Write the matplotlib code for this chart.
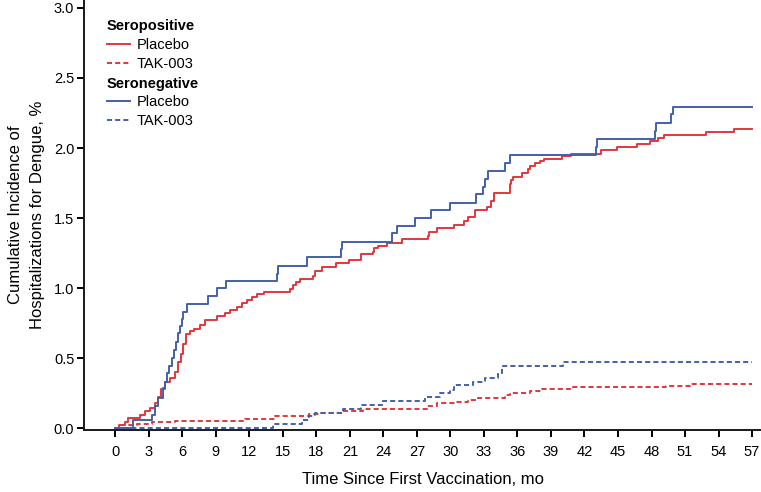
import matplotlib
matplotlib.use("Agg")
import matplotlib.pyplot as plt
from matplotlib.lines import Line2D

plt.rcParams['font.family'] = ['Liberation Sans', 'DejaVu Sans']

# ---- data (months, cumulative incidence %) ----
end_month = 57

pos_placebo_t = [0, 0.36, 0.87, 1.16, 2.2, 2.66, 3.1, 3.55, 3.8, 4.1, 4.45, 4.9, 5.34, 5.64,
                 5.85, 6.1, 6.33, 6.7, 7.05, 7.6, 8.0, 9.1, 9.8, 10.3, 10.9, 11.3, 11.8, 12.2,
                 12.7, 13.3, 15.6, 15.9, 16.2, 16.5, 17.7, 17.9, 18.5, 19.8, 20.9, 22.0, 23.1,
                 23.2, 23.5, 24.3, 25.7, 28.0, 28.1, 28.8, 30.3, 31.2, 31.6, 32.2, 33.3, 33.6,
                 33.9, 35.3, 35.45, 35.6, 36.4, 36.9, 37.1, 37.6, 38.0, 38.4, 40.0, 40.8, 43.0,
                 43.5, 44.9, 46.7, 47.9, 48.6, 49.1, 52.9, 55.4]
pos_placebo_v = [0, 0.02, 0.045, 0.069, 0.093, 0.121, 0.145, 0.176, 0.22, 0.28, 0.33, 0.355, 0.40,
                 0.47, 0.53, 0.60, 0.67, 0.69, 0.71, 0.735, 0.77, 0.80, 0.82, 0.843, 0.866, 0.89,
                 0.914, 0.938, 0.957, 0.97, 0.99, 1.02, 1.04, 1.064, 1.088, 1.12, 1.152, 1.176,
                 1.20, 1.24, 1.26, 1.284, 1.30, 1.32, 1.35, 1.37, 1.40, 1.426, 1.45, 1.48, 1.51,
                 1.557, 1.58, 1.62, 1.68, 1.74, 1.77, 1.79, 1.82, 1.85, 1.87, 1.89, 1.91, 1.92,
                 1.94, 1.957, 1.96, 1.986, 2.005, 2.03, 2.05, 2.07, 2.09, 2.114, 2.136]

pos_tak_t = [0, 0.4, 1.9, 3.3, 5.3, 11.6, 14.3, 17.3, 18.3, 20.3, 22.2, 27.9, 28.8, 30.4, 31.6,
             32.5, 34.9, 35.3, 37.1, 38.2, 40.7, 49.3, 51.4]
pos_tak_v = [0, 0.02, 0.03, 0.045, 0.052, 0.066, 0.086, 0.098, 0.11, 0.124, 0.136, 0.16, 0.176,
             0.188, 0.2, 0.212, 0.236, 0.248, 0.266, 0.279, 0.29, 0.302, 0.312]

neg_placebo_t = [0, 1.6, 3.26, 3.55, 3.85, 4.3, 4.45, 4.6, 4.84, 5.05, 5.26, 5.43, 5.64, 5.8,
                 5.94, 6.1, 6.45, 8.3, 9.1, 9.9, 14.45, 14.55, 17.2, 20.2, 20.3, 24.8, 25.2,
                 26.8, 28.3, 30.0, 32.3, 32.9, 33.1, 33.4, 34.9, 35.3, 43.0, 43.1, 48.3, 48.4,
                 49.7, 49.9]
neg_placebo_v = [0, 0.057, 0.093, 0.157, 0.217, 0.286, 0.33, 0.39, 0.44, 0.50, 0.557, 0.617,
                 0.676, 0.73, 0.78, 0.83, 0.886, 0.94, 0.998, 1.05, 1.10, 1.16, 1.22, 1.28, 1.33,
                 1.39, 1.44, 1.50, 1.557, 1.61, 1.67, 1.72, 1.78, 1.836, 1.895, 1.95, 2.01, 2.064,
                 2.12, 2.18, 2.24, 2.29]

neg_tak_t = [0, 14.1, 16.7, 17.3, 17.9, 20.4, 22.0, 24.0, 27.7, 29.1, 30.0, 30.3, 32.0, 33.1,
             34.3, 34.6, 40.1]
neg_tak_v = [0, 0.031, 0.06, 0.085, 0.108, 0.135, 0.164, 0.194, 0.224, 0.248, 0.275, 0.305,
             0.33, 0.36, 0.39, 0.445, 0.474]

x_ticks = list(range(0, 58, 3))
y_ticks = [0.0, 0.5, 1.0, 1.5, 2.0, 2.5, 3.0]

RED = '#e0383d'
BLUE = '#4360a8'

fig = plt.figure(figsize=(7.61, 4.92), dpi=100)
ax = fig.add_axes([0.1104, 0.126, 0.8896, 0.874])


def draw(t, v, color, ls):
    tt = list(t) + [end_month]
    vv = list(v) + [v[-1]]
    ax.step(tt, vv, where='post', color=color, lw=1.4, linestyle=ls)


dash = (0, (2.6, 1.6))
draw(pos_placebo_t, pos_placebo_v, RED, '-')
draw(pos_tak_t, pos_tak_v, RED, dash)
draw(neg_placebo_t, neg_placebo_v, BLUE, '-')
draw(neg_tak_t, neg_tak_v, BLUE, dash)

ax.set_xlim(-2.8, 57.8)
ax.set_ylim(-0.014, 3.057)
ax.set_xticks(x_ticks)
ax.set_xticklabels([str(x) for x in x_ticks])
ax.set_yticks(y_ticks)
ax.set_yticklabels([f"{y:.1f}" for y in y_ticks])

for s in ['top', 'right']:
    ax.spines[s].set_visible(False)
for s in ['left', 'bottom']:
    ax.spines[s].set_linewidth(1.4)
    ax.spines[s].set_color('#1a1a1a')

ax.tick_params(axis='x', direction='out', length=5, width=1.4, pad=6, labelsize=10.5)
ax.tick_params(axis='y', direction='out', length=5, width=1.4, pad=2, labelsize=10.5)

ax.set_xlabel('Time Since First Vaccination, mo', fontsize=12, labelpad=9.5)
ax.set_ylabel('Cumulative Incidence of\nHospitalizations for Dengue, %', fontsize=12,
              labelpad=6.5, linespacing=1.6)

common = dict(loc='upper left', frameon=False, alignment='left', fontsize=10.5,
              title_fontproperties={'weight': 'bold', 'size': 10.5},
              handlelength=1.6, handletextpad=0.45, labelspacing=0.33,
              borderpad=0, borderaxespad=0)

h1 = [Line2D([], [], color=RED, lw=1.4, ls='-'), Line2D([], [], color=RED, lw=1.4, ls=dash)]
leg1 = ax.legend(h1, ['Placebo', 'TAK-003'], title='Seropositive',
                 bbox_to_anchor=(0.034, 0.955), **common)
ax.add_artist(leg1)
h2 = [Line2D([], [], color=BLUE, lw=1.4, ls='-'), Line2D([], [], color=BLUE, lw=1.4, ls=dash)]
leg2 = ax.legend(h2, ['Placebo', 'TAK-003'], title='Seronegative',
                 bbox_to_anchor=(0.034, 0.822), **common)

fig.savefig('out.png', dpi=100)
